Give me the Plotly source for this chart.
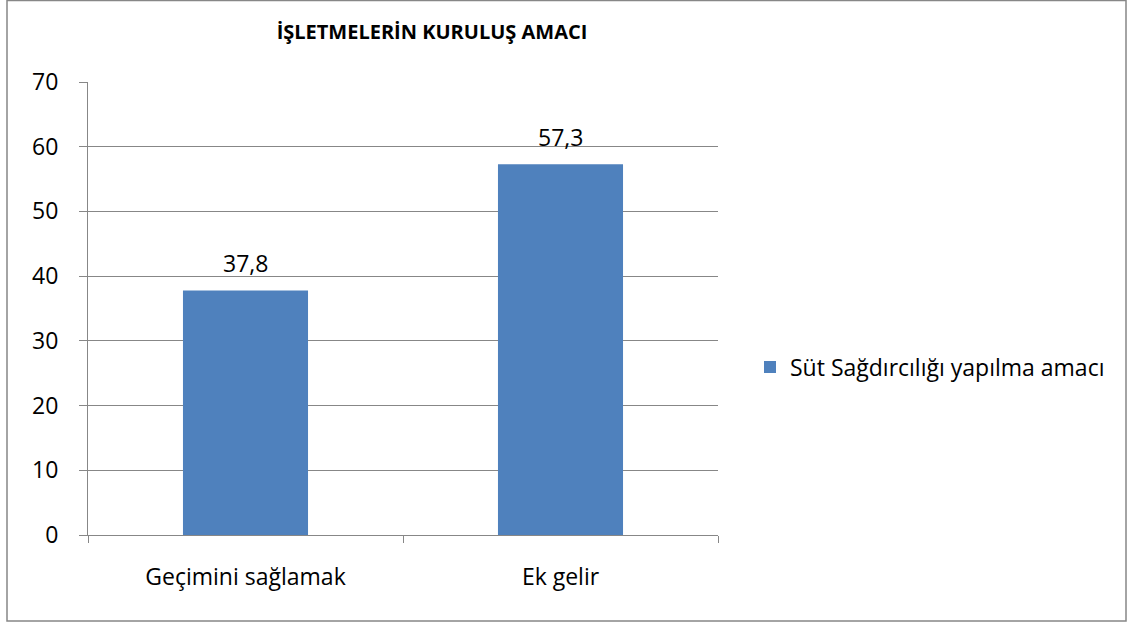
import plotly.graph_objects as go

categories = ["Geçimini sağlamak", "Ek gelir"]
values = [37.8, 57.3]
series_name = "Süt Sağdırcılığı yapılma amacı"
title_text = "İŞLETMELERİN KURULUŞ AMACI"
y_ticks = [0, 10, 20, 30, 40, 50, 60, 70]

W, H = 1133, 623
L, R, T, B = 88, 718, 82, 535
pw, ph = R - L, B - T

FONT = "Open Sans"
GRID = "#878787"
FS = 23

fig = go.Figure()
fig.add_trace(go.Bar(
    x=categories, y=values, name=series_name,
    marker=dict(color="#4F81BD", line=dict(width=0)),
    width=0.397,
))

for c, v in zip(categories, values):
    fig.add_annotation(
        x=c, y=v, text=f"{v:.1f}".replace(".", ","), showarrow=False,
        xanchor="center", yanchor="bottom", yshift=9,
        font=dict(family=FONT, size=FS, color="#000000"),
    )


def px_x(x):
    return (x - L) / pw


def px_y(y):
    return (B - y) / ph


fig.update_layout(
    width=W, height=H,
    margin=dict(l=L, r=W - R, t=T, b=H - B, autoexpand=False),
    paper_bgcolor="white", plot_bgcolor="white",
    separators=",.",
    showlegend=True,
    legend=dict(x=px_x(750), y=px_y(367), xanchor="left", yanchor="middle",
                font=dict(family=FONT, size=FS, color="#000000"),
                itemwidth=30, bgcolor="rgba(0,0,0,0)"),
    title=dict(text="<b>" + title_text + "</b>", x=432 / W,
               xanchor="center", y=1 - 32 / H, yanchor="middle",
               font=dict(family=FONT, size=20, color="#000000")),
    xaxis=dict(
        type="category", showline=True, linecolor=GRID, linewidth=1,
        ticks="outside", ticklen=7, tickcolor=GRID, tickson="boundaries",
        tickfont=dict(family=FONT, size=FS, color="#000000"),
        ticklabelstandoff=21, showgrid=False, zeroline=False,
        range=[-0.5, 1.5],
    ),
    yaxis=dict(
        range=[0, 70], tickvals=y_ticks, showline=True, linecolor=GRID, linewidth=1,
        ticks="outside", ticklen=8, tickcolor=GRID,
        showgrid=True, gridcolor=GRID, gridwidth=1, zeroline=False,
        tickfont=dict(family=FONT, size=FS, color="#000000"),
        ticklabelstandoff=16,
    ),
)

fig.add_shape(type="rect", xref="paper", yref="paper",
              x0=px_x(7), x1=px_x(1126), y0=px_y(621), y1=px_y(0.5),
              line=dict(color="#878787", width=1.5), fillcolor="rgba(0,0,0,0)",
              layer="below")

fig.write_html("out.html", config={"displayModeBar": False},
               post_script="document.body.style.margin='0';document.body.style.padding='0';")
